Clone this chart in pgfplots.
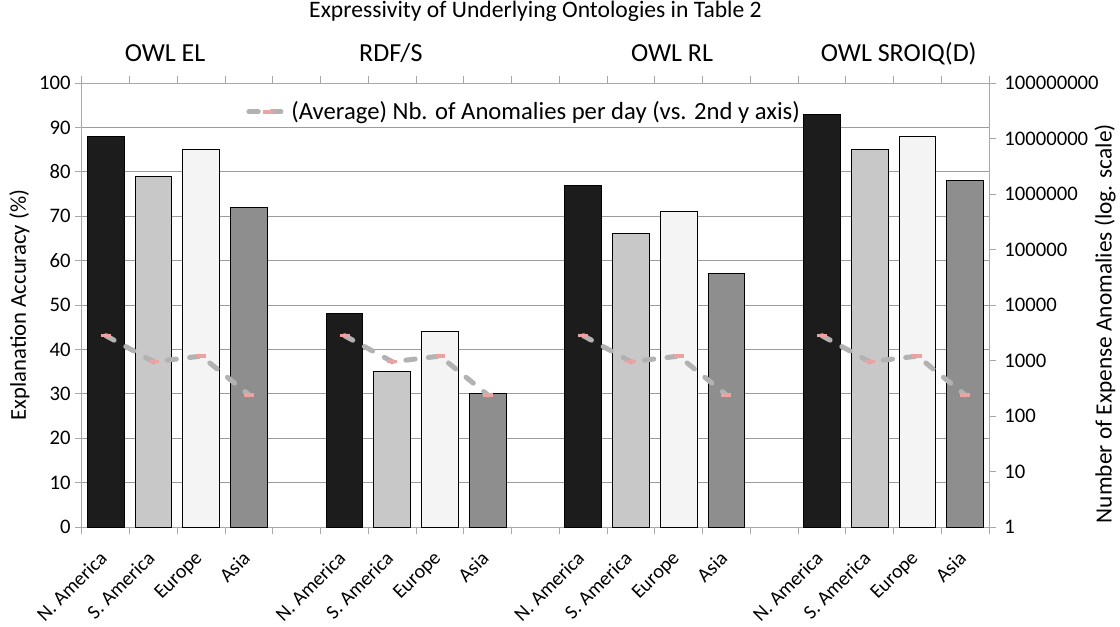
\documentclass[border=0pt]{standalone}
\usepackage{fontspec}
\setmainfont{Carlito}
\usepackage{pgfplots}
\pgfplotsset{compat=1.18}

\definecolor{barNA}{HTML}{1C1C1C}
\definecolor{barSA}{HTML}{C8C8C8}
\definecolor{barEU}{HTML}{F4F4F4}
\definecolor{barAS}{HTML}{8E8E8E}
\definecolor{axisgray}{HTML}{A8A8A8}
\definecolor{gridgray}{HTML}{9C9C9C}
\definecolor{linegray}{HTML}{B2B2B2}
\definecolor{markpink}{HTML}{E9A3A3}

\newcommand{\tickfont}{\fontsize{15.5}{18}\selectfont}

\begin{document}
\begin{tikzpicture}
% bars, left axis (accuracy)
\begin{axis}[
  name=main, at={(0,0)}, anchor=south west,
  scale only axis, width=680.25pt, height=333pt,
  xmin=-0.5, xmax=18.5, ymin=0, ymax=100,
  clip=false,
  axis line style={draw=axisgray, line width=0.75pt},
  tick style={draw=axisgray, line width=0.75pt},
  tick align=outside,
  major tick length=5pt,
  xtick={-0.5,0.5,...,18.5},
  xticklabels={},
  xtick pos=both,
  extra x ticks={0,1,2,3,5,6,7,8,10,11,12,13,15,16,17,18},
  extra x tick labels={N. America,S. America,Europe,Asia,
                       N. America,S. America,Europe,Asia,
                       N. America,S. America,Europe,Asia,
                       N. America,S. America,Europe,Asia},
  extra x tick style={tick style={draw=none},
     xticklabel style={font=\fontsize{15}{18}\selectfont, rotate=45, anchor=north east,
                       inner sep=0pt, yshift=-4.4pt, xshift=-12.4pt}},
  ytick={0,10,...,100},
  ytick pos=left,
  ymajorgrids,
  grid style={draw=gridgray, line width=0.75pt},
  ticklabel style={font=\tickfont},
  /pgf/number format/assume math mode=true,
  ylabel={Explanation Accuracy (\%)},
  ylabel style={font=\fontsize{17}{21}\selectfont, at={(axis description cs:0,0.5)}, anchor=center, yshift=47pt},
]
\addplot[ybar, bar width=0.77, bar shift=0pt, fill=barNA, draw=black, line width=0.75pt]
  coordinates {(0,88) (5,48) (10,77) (15,93)};
\addplot[ybar, bar width=0.77, bar shift=0pt, fill=barSA, draw=black, line width=0.75pt]
  coordinates {(1,79) (6,35) (11,66) (16,85)};
\addplot[ybar, bar width=0.77, bar shift=0pt, fill=barEU, draw=black, line width=0.75pt]
  coordinates {(2,85) (7,44) (12,71) (17,88)};
\addplot[ybar, bar width=0.77, bar shift=0pt, fill=barAS, draw=black, line width=0.75pt]
  coordinates {(3,72) (8,30) (13,57) (18,78)};

\node[anchor=base, font=\fontsize{19.5}{23}\selectfont, yshift=16.5pt] at (axis cs:1.24,100) {OWL EL};
\node[anchor=base, font=\fontsize{19.5}{23}\selectfont, yshift=16.5pt] at (axis cs:5.97,100) {RDF/S};
\node[anchor=base, font=\fontsize{19.5}{23}\selectfont, yshift=16.5pt] at (axis cs:11.86,100) {OWL RL};
\node[anchor=base, font=\fontsize{19.5}{23}\selectfont, yshift=16.5pt] at (axis cs:16.61,100) {OWL SROIQ(D)};
\node[anchor=base, font=\fontsize{17.7}{21}\selectfont, yshift=49.5pt] at (axis cs:9,100) {Expressivity of Underlying Ontologies in Table 2};
\end{axis}

% line, right axis (anomalies, log)
\begin{axis}[
  at={(0,0)}, anchor=south west,
  scale only axis, width=680.25pt, height=333pt,
  xmin=-0.5, xmax=18.5,
  ymode=log, ymin=1, ymax=100000000,
  axis x line=none, axis y line*=right,
  axis line style={draw=axisgray, line width=0.75pt},
  tick style={draw=axisgray, line width=0.75pt},
  tick align=outside,
  major tick length=5pt,
  ytick={1,10,100,1000,10000,100000,1000000,10000000,100000000},
  yticklabels={1,10,100,1000,10000,100000,1000000,10000000,100000000},
  yminorticks=false,
  ticklabel style={font=\tickfont},
  yticklabel style={xshift=3pt},
  ylabel={Number of Expense Anomalies (log. scale)},
  ylabel style={font=\fontsize{17.5}{21}\selectfont, at={(axis description cs:1,0.5)}, anchor=center, yshift=-87pt, xshift=-14pt},
  unbounded coords=jump,
  legend style={draw=none, fill=none, at={(axis description cs:0.181,0.935)}, anchor=west,
                font=\fontsize{18.5}{22}\selectfont, inner sep=0pt},
  legend cell align=left,
  legend image code/.code={
    \draw[mark repeat=2,mark phase=2,#1] plot coordinates {(0pt,0pt) (14pt,0pt) (28pt,0pt)};
  },
]
\addplot[linegray, line width=3.75pt, dash pattern=on 7pt off 10pt, line cap=round,
  mark=-, mark size=3.75pt, mark options={solid, draw=markpink, line width=2.5pt, line cap=butt}]
  coordinates {(0,2800) (1,950) (2,1200) (3,240) (4,nan)
               (5,2800) (6,950) (7,1200) (8,240) (9,nan)
               (10,2800) (11,950) (12,1200) (13,240) (14,nan)
               (15,2800) (16,950) (17,1200) (18,240)};
\addlegendentry{(Average) Nb. of Anomalies per day (vs. 2nd y axis)}
\end{axis}

\pgfresetboundingbox
\useasboundingbox (-61.5pt,-74.25pt) rectangle (778.5pt,395.25pt);
\end{tikzpicture}
\end{document}
